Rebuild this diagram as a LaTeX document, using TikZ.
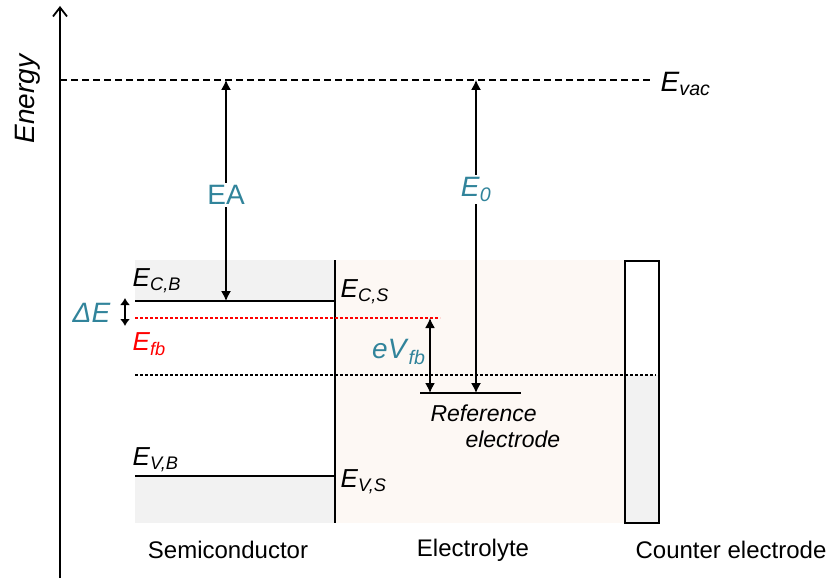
\documentclass[tikz,border=0pt]{standalone}
\usepackage{fontspec}
\setmainfont{Liberation Sans}
\usetikzlibrary{arrows.meta}
\definecolor{labteal}{HTML}{31849B}
\definecolor{semigray}{HTML}{F2F2F2}
\definecolor{elpeach}{HTML}{FDF8F4}
\newcommand{\enlvl}[2]{\textit{#1}\textsubscript{\textit{#2}}}

\begin{document}
\begin{tikzpicture}[x=1pt,y=-1pt,font=\fontsize{24}{28}\selectfont,
    lvl/.style={line width=2.2pt},
    lvltxt/.style={font=\fontsize{26}{30}\selectfont},
    dotline/.style={line width=2pt,dash pattern=on 2.5pt off 2.5pt},
    tealtxt/.style={text=labteal,font=\fontsize{28}{32}\selectfont},
    >={Latex[length=10pt,width=10pt]}]
    \useasboundingbox (0,0) rectangle (826,580);
    % regions
    \fill[semigray] (135,260) rectangle (335,301);
    \fill[semigray] (135,476) rectangle (335,523);
    \fill[elpeach] (335,260) rectangle (625,523);
    \fill[semigray] (625,375) rectangle (659,523);
    % axis
    \coordinate (ax0) at (60,578);
    \coordinate (ax1) at (60,6);
    \draw[line width=1.8pt,-{Straight Barb[length=9pt,width=14pt]}] (ax0)--(ax1);
    \node[rotate=90,font=\fontsize{28}{32}\selectfont\itshape] (energy) at (28,99) {Energy};
    % vacuum level
    \coordinate (vacL) at (60,80);
    \coordinate (vacR) at (652,80);
    \draw[line width=1.6pt,dash pattern=on 7pt off 4pt] (vacL)--(vacR);
    \node[anchor=west,font=\fontsize{28}{32}\selectfont] (evac) at (657,84) {\enlvl{E}{vac}};
    % semiconductor
    \coordinate (cbL) at (135,301);
    \coordinate (cbR) at (335,301);
    \coordinate (vbL) at (135,476);
    \coordinate (vbR) at (335,476);
    \coordinate (ifT) at (335,260);
    \coordinate (ifB) at (335,523);
    \draw[lvl] (cbL)--(cbR);
    \draw[lvl] (vbL)--(vbR);
    \draw[lvl] (ifT)--(ifB);
    \node[anchor=west,lvltxt] (ecb) at (129,281) {\enlvl{E}{C,B}};
    \node[anchor=west,lvltxt] (ecs) at (337,292) {\enlvl{E}{C,S}};
    \node[anchor=west,lvltxt] (evb) at (129,460) {\enlvl{E}{V,B}};
    \node[anchor=west,lvltxt] (evs) at (337,482) {\enlvl{E}{V,S}};
    % flat band and reference levels
    \coordinate (fbL) at (135,318);
    \coordinate (fbR) at (440,318);
    \draw[dotline,red] (fbL)--(fbR);
    \node[anchor=west,text=red,lvltxt] (efb) at (129,344) {\enlvl{E}{fb}};
    \coordinate (refL) at (135,375);
    \coordinate (refR) at (656,375);
    \draw[dotline] (refL)--(refR);
    \coordinate (reL) at (420,393);
    \coordinate (reR) at (521,393);
    \draw[lvl] (reL)--(reR);
    \node[anchor=north west,align=left,font=\fontsize{23}{26}\selectfont\itshape] (refel) at (427,401) {Reference\\\hspace{35pt}electrode};
    % counter electrode
    \draw[lvl] (625,261) rectangle (659,523);
    % arrows
    \coordinate (eaT) at (226,80);
    \coordinate (eaB) at (226,301);
    \draw[line width=1.3pt,<->] (eaT)--node[fill=white,tealtxt,pos=0.52,inner sep=2pt] (ealab) {EA} (eaB);
    \coordinate (e0T) at (476,80);
    \coordinate (e0B) at (476,393);
    \draw[line width=1.3pt,<->] (e0T)--node[fill=white,tealtxt,pos=0.35,inner sep=2pt] (e0lab) {\enlvl{E}{0}} (e0B);
    \coordinate (fbT) at (430,318);
    \coordinate (fbB) at (430,393);
    \draw[line width=1.6pt,<->] (fbT)--(fbB);
    \node[tealtxt,anchor=east] (evfb) at (429,352) {\enlvl{eV}{fb}};
    \coordinate (deT) at (125,298);
    \coordinate (deB) at (125,326);
    \draw[line width=1.6pt,{Latex[length=7pt,width=10pt]}-{Latex[length=7pt,width=10pt]}] (deT)--(deB);
    \node[tealtxt,anchor=east] (delab) at (114,313) {\textit{ΔE}};
    % region labels
    \node (semi) at (228,550) {Semiconductor};
    \node (elec) at (473,550) {Electrolyte};
    \node (cntr) at (731,550) {Counter electrode};
\end{tikzpicture}
\end{document}
